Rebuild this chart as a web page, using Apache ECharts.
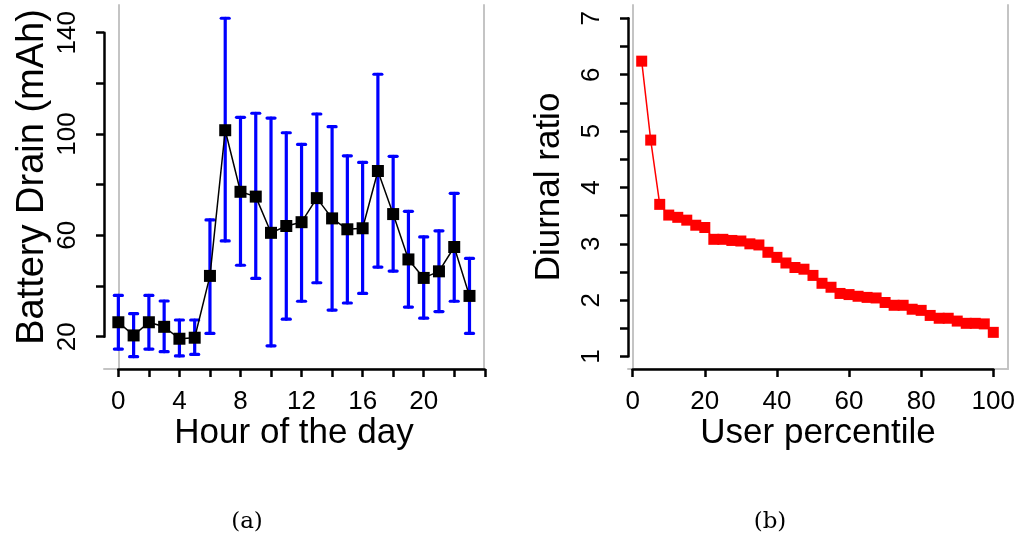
<!DOCTYPE html>
<html><head><meta charset="utf-8">
<script src="https://cdn.jsdelivr.net/npm/echarts@6/dist/echarts.min.js"></script>
<style>html,body{margin:0;padding:0;background:#fff}#c{width:1021px;height:540px}</style>
</head><body><div id="c"></div>
<script>
// ---------- data ----------
const hours = [0,1,2,3,4,5,6,7,8,9,10,11,12,13,14,15,16,17,18,19,20,21,22,23];
const drainMean = [25.7,20.5,25.7,23.9,19.2,19.6,44.0,101.5,77.2,75.3,61.0,63.7,65.2,74.7,66.7,62.4,62.8,85.4,68.4,50.5,43.2,45.8,55.4,36.1];
const drainHigh = [36.3,29.1,36.3,34.1,26.6,26.6,66.1,145.7,106.6,108.2,106.3,100.5,95.9,107.9,102.9,91.4,88.8,123.6,91.2,69.5,59.4,61.8,76.6,50.9];
const drainLow  = [15.1,12.1,15.1,14.1,12.4,13.0,21.3,57.8,48.2,43.0,16.4,26.9,34.0,41.3,30.5,33.3,37.1,47.5,45.9,31.7,27.3,29.9,34.0,21.3];
const hourTickLabels = [0,4,8,12,16,20];
const drainTickLabels = [20,60,100,140];

const percentiles = [2.5,5,7.5,10,12.5,15,17.5,20,22.5,25,27.5,30,32.5,35,37.5,40,42.5,45,47.5,50,
                     52.5,55,57.5,60,62.5,65,67.5,70,72.5,75,77.5,80,82.5,85,87.5,90,92.5,95,97.5,100];
const diurnalRatio = [6.24,4.84,3.70,3.51,3.47,3.42,3.33,3.29,3.08,3.08,
                      3.06,3.05,3.00,2.98,2.85,2.76,2.66,2.58,2.55,2.44,
                      2.30,2.23,2.12,2.10,2.07,2.05,2.04,1.96,1.91,1.91,
                      1.84,1.82,1.73,1.68,1.68,1.63,1.59,1.59,1.58,1.43];
const percentileTickLabels = [0,20,40,60,80,100];
const ratioTickLabels = [1,2,3,4,5,6,7];

// ---------- layout ----------
const FONT = 'Liberation Sans, Arial, Helvetica, sans-serif';
const panels = [
  {L:104, R:484, T:5, B:369, xlim:[-0.94,23.95], ylim:[7.25,150.93], xax:[0,24,2], yax:[20,140,20]},
  {L:628, R:1008, T:5, B:369, xlim:[-1.3,104.08], ylim:[0.78,7.236], xax:[0,100,20], yax:[1,7,0.5]}
];
function sx(p, v){ return p.L + (v - p.xlim[0]) / (p.xlim[1]-p.xlim[0]) * (p.R - p.L); }
function sy(p, v){ return p.B - (v - p.ylim[0]) / (p.ylim[1]-p.ylim[0]) * (p.B - p.T); }

const grids = [], xAxes = [], yAxes = [];
const black = '#000', gray = '#c4c4c4';
function lab(list){ return v => list.some(t => Math.abs(t - v) < 1e-9) ? String(v) : ''; }

const cfg = [
  {xName:'Hour of the day', yName:'Battery Drain (mAh)', xl:hourTickLabels, yl:drainTickLabels, yGap:52, ySize:38, yPad:[0,0,0,20]},
  {xName:'User percentile', yName:'Diurnal ratio', xl:percentileTickLabels, yl:ratioTickLabels, yGap:61, ySize:35, yPad:0}
];
panels.forEach((p, k) => {
  const c = cfg[k];
  const g0 = grids.length;
  grids.push({left:p.L, top:p.T, width:p.R-p.L, height:p.B-p.T, show:false});
  const xl = sx(p, p.xax[0]), xr = sx(p, p.xax[1]);
  grids.push({left:xl, top:p.T, width:xr-xl, height:p.B-p.T, show:false});
  const yt = sy(p, p.yax[1]), yb = sy(p, p.yax[0]);
  grids.push({left:p.L, top:yt, width:p.R-p.L, height:yb-yt, show:false});

  xAxes.push({gridIndex:g0, type:'value', min:p.xlim[0], max:p.xlim[1], position:'bottom',
    axisLine:{show:true, lineStyle:{color:gray, width:2}}, axisTick:{show:false}, axisLabel:{show:false}, splitLine:{show:false},
    name:c.xName, nameLocation:'middle', nameGap:47, nameTextStyle:{fontFamily:FONT, fontSize:35, color:black}});
  yAxes.push({gridIndex:g0, type:'value', min:p.ylim[0], max:p.ylim[1], position:'left',
    axisLine:{show:true, lineStyle:{color:gray, width:2}}, axisTick:{show:false}, axisLabel:{show:false}, splitLine:{show:false},
    name:c.yName, nameLocation:'middle', nameRotate:90, nameGap:c.yGap,
    nameTextStyle:{fontFamily:FONT, fontSize:c.ySize, color:black, padding:c.yPad}});
  yAxes.push({gridIndex:g0, type:'value', min:p.ylim[0], max:p.ylim[1], position:'right',
    axisLine:{show:true, lineStyle:{color:gray, width:2}}, axisTick:{show:false}, axisLabel:{show:false}, splitLine:{show:false}});

  xAxes.push({gridIndex:g0+1, type:'value', min:p.xax[0], max:p.xax[1], interval:p.xax[2], position:'bottom', offset:2,
    axisLine:{show:true, lineStyle:{color:black, width:2.5}},
    axisTick:{show:true, length:8, lineStyle:{color:black, width:2.5}},
    axisLabel:{show:true, margin:18, fontFamily:FONT, fontSize:26, color:black, formatter:lab(c.xl), showMinLabel:true, showMaxLabel:true},
    splitLine:{show:false}});
  yAxes.push({gridIndex:g0+1, type:'value', min:0, max:1, show:false});
  xAxes.push({gridIndex:g0+2, type:'value', min:0, max:1, show:false});
  yAxes.push({gridIndex:g0+2, type:'value', min:p.yax[0], max:p.yax[1], interval:p.yax[2], position:'left', offset:2,
    axisLine:{show:true, lineStyle:{color:black, width:2.5}},
    axisTick:{show:true, length:8, lineStyle:{color:black, width:2.5}},
    axisLabel:{show:true, rotate:90, margin:21, fontFamily:FONT, fontSize:26, color:black, formatter:lab(c.yl), showMinLabel:true, showMaxLabel:true},
    splitLine:{show:false}});
});

const errData = hours.map((h, i) => [h, drainLow[i], drainHigh[i]]);
const series = [
  {type:'custom', xAxisIndex:0, yAxisIndex:0, data:errData, encode:{x:0, y:[1,2]}, z:2, silent:true,
    renderItem:function(params, api){
      const x = api.value(0);
      const a = api.coord([x, api.value(1)]), b = api.coord([x, api.value(2)]);
      const cw = 4;
      const st = {stroke:'#0000ff', lineWidth:3.2, lineCap:'round'};
      return {type:'group', children:[
        {type:'line', shape:{x1:a[0], y1:a[1], x2:b[0], y2:b[1]}, style:st},
        {type:'line', shape:{x1:a[0]-cw, y1:a[1], x2:a[0]+cw, y2:a[1]}, style:st},
        {type:'line', shape:{x1:b[0]-cw, y1:b[1], x2:b[0]+cw, y2:b[1]}, style:st}
      ]};
    }},
  {type:'line', xAxisIndex:0, yAxisIndex:0, data:hours.map((h, i) => [h, drainMean[i]]), z:5,
    symbol:'rect', symbolSize:12, showAllSymbol:true, itemStyle:{color:'#000'}, lineStyle:{color:'#000', width:1.5}, animation:false},
  {type:'line', xAxisIndex:3, yAxisIndex:4, data:percentiles.map((q, i) => [q, diurnalRatio[i]]), z:5,
    symbol:'rect', symbolSize:11, showAllSymbol:true, itemStyle:{color:'#ff0000'}, lineStyle:{color:'#ff0000', width:1.5}, animation:false}
];

const chart = echarts.init(document.getElementById('c'), null, {renderer:'canvas'});
chart.setOption({
  animation:false,
  backgroundColor:'#fff',
  grid:grids, xAxis:xAxes, yAxis:yAxes, series:series,
  graphic:[
    {type:'text', x:247, y:522, style:{text:'(a)', align:'center', verticalAlign:'middle', font:'23px "DejaVu Serif", "Liberation Serif", serif', fill:'#000'}},
    {type:'text', x:770, y:522, style:{text:'(b)', align:'center', verticalAlign:'middle', font:'23px "DejaVu Serif", "Liberation Serif", serif', fill:'#000'}}
  ]
});
</script></body></html>
